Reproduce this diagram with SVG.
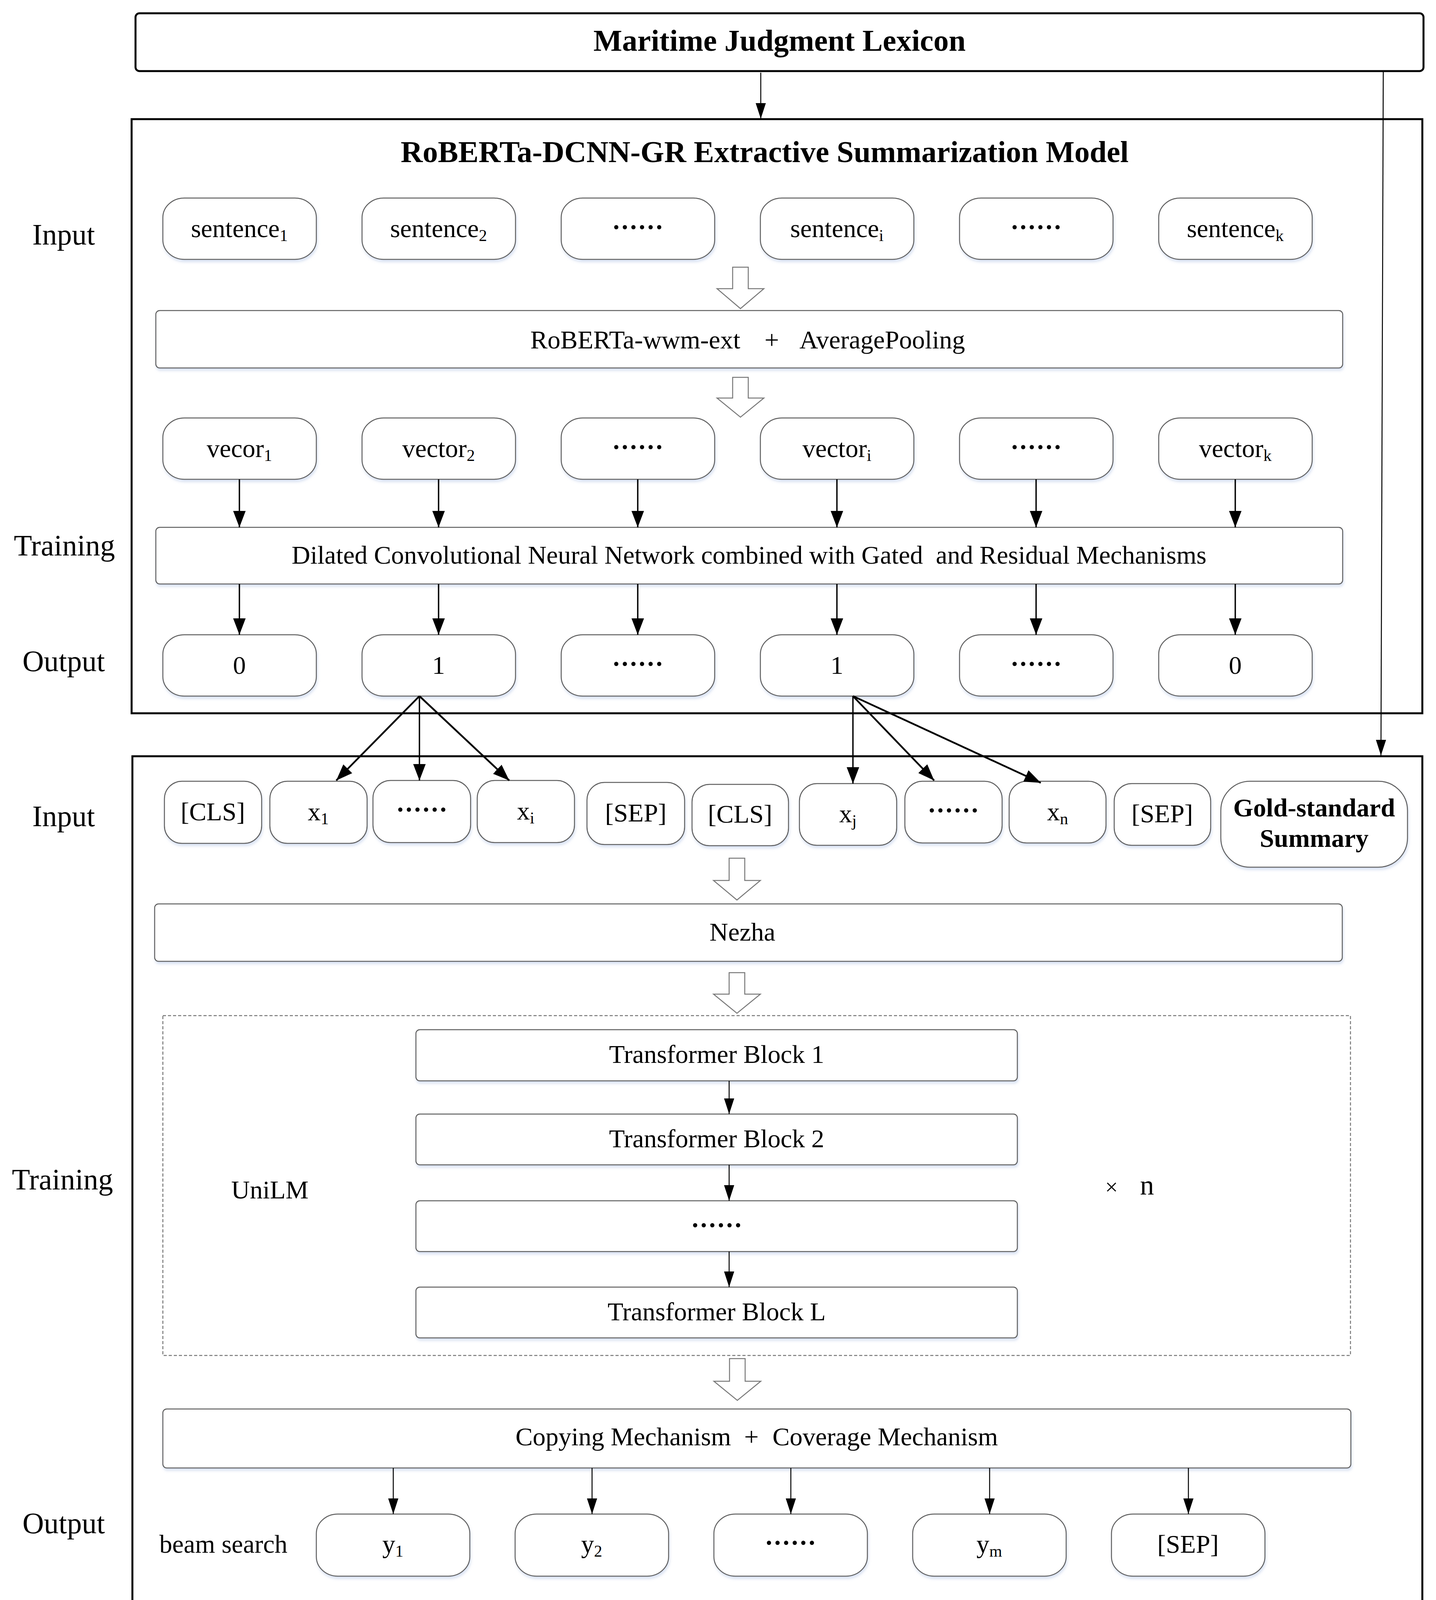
<svg xmlns="http://www.w3.org/2000/svg" width="3677" height="4305" viewBox="0 0 3677 4305">
<style>
.frame{fill:none;stroke:#000;stroke-width:5}
.node{fill:#fff;stroke:#5e5e5e;stroke-width:2.5;filter:url(#sh)}
.t{font-family:"Liberation Serif","Times New Roman",serif;fill:#000;text-anchor:middle}
.lbl{font-size:76px}
.nt{font-size:66px}
.bt{font-size:78px;font-weight:bold}
.sub{font-size:42px}
.dots{font-family:"Noto Sans CJK SC",sans-serif;font-weight:bold;font-size:66px;fill:#000;text-anchor:middle}
.c{stroke:#000;stroke-width:3.5;fill:none;marker-end:url(#ah)}
.cs{stroke:#000;stroke-width:2.5;fill:none;marker-end:url(#ahs)}
.hollow{fill:#fff;stroke:#777;stroke-width:2.5}
.dash{fill:none;stroke:#777;stroke-width:2.5;stroke-dasharray:8 5}
</style>
<defs>
<filter id="sh" x="-10%" y="-10%" width="120%" height="130%">
<feDropShadow dx="2" dy="6" stdDeviation="3" flood-color="#b8c8e8" flood-opacity="0.5"/>
</filter>
<marker id="ah" markerUnits="userSpaceOnUse" markerWidth="42" markerHeight="32" refX="42" refY="16" orient="auto">
<path d="M0,0 L42,16 L0,32 z" fill="#000"/>
</marker>
<marker id="ahs" markerUnits="userSpaceOnUse" markerWidth="40" markerHeight="26" refX="40" refY="13" orient="auto">
<path d="M0,0 L40,13 L0,26 z" fill="#000"/>
</marker>
</defs>
<rect width="3677" height="4305" fill="#fff"/>

<g id="lexicon">
<rect x="347" y="34" width="3298" height="148" rx="10" class="frame" fill="#fff"/>
<text x="1996" y="130" class="t bt">Maritime Judgment Lexicon</text>
</g>

<g id="extractive-model">
<rect x="337" y="305" width="3305" height="1521" class="frame"/>
<text x="1958" y="415" class="t bt">RoBERTa-DCNN-GR Extractive Summarization Model</text>
</g>

<g id="labels-upper">
<text x="163" y="626" class="t lbl">Input</text>
<text x="165" y="1422" class="t lbl">Training</text>
<text x="163" y="1718" class="t lbl">Output</text>
</g>

<g id="sentences">
<g id="s1"><rect x="417" y="507" width="393" height="157" rx="55" ry="50" class="node"/><text x="613" y="607" class="t nt">sentence<tspan class="sub" dy="10">1</tspan></text></g>
<g id="s2"><rect x="927" y="507" width="393" height="157" rx="55" ry="50" class="node"/><text x="1123" y="607" class="t nt">sentence<tspan class="sub" dy="10">2</tspan></text></g>
<g id="s3"><rect x="1437" y="507" width="393" height="157" rx="55" ry="50" class="node"/><text x="1633" y="607" class="dots">……</text></g>
<g id="s4"><rect x="1947" y="507" width="393" height="157" rx="55" ry="50" class="node"/><text x="2143" y="607" class="t nt">sentence<tspan class="sub" dy="10">i</tspan></text></g>
<g id="s5"><rect x="2457" y="507" width="393" height="157" rx="55" ry="50" class="node"/><text x="2653" y="607" class="dots">……</text></g>
<g id="s6"><rect x="2967" y="507" width="393" height="157" rx="55" ry="50" class="node"/><text x="3163" y="607" class="t nt">sentence<tspan class="sub" dy="10">k</tspan></text></g>
</g>

<g id="roberta">
<rect x="399" y="795" width="3039" height="147" rx="10" class="node"/>
<text x="1358" y="892" class="t nt" style="text-anchor:start">RoBERTa-wwm-ext</text>
<text x="1976" y="892" class="t nt">+</text>
<text x="2047" y="892" class="t nt" style="text-anchor:start">AveragePooling</text>
</g>

<g id="vectors">
<g id="v1"><rect x="417" y="1070" width="393" height="157" rx="55" ry="50" class="node"/><text x="613" y="1170" class="t nt">vecor<tspan class="sub" dy="10">1</tspan></text></g>
<g id="v2"><rect x="927" y="1070" width="393" height="157" rx="55" ry="50" class="node"/><text x="1123" y="1170" class="t nt">vector<tspan class="sub" dy="10">2</tspan></text></g>
<g id="v3"><rect x="1437" y="1070" width="393" height="157" rx="55" ry="50" class="node"/><text x="1633" y="1170" class="dots">……</text></g>
<g id="v4"><rect x="1947" y="1070" width="393" height="157" rx="55" ry="50" class="node"/><text x="2143" y="1170" class="t nt">vector<tspan class="sub" dy="10">i</tspan></text></g>
<g id="v5"><rect x="2457" y="1070" width="393" height="157" rx="55" ry="50" class="node"/><text x="2653" y="1170" class="dots">……</text></g>
<g id="v6"><rect x="2967" y="1070" width="393" height="157" rx="55" ry="50" class="node"/><text x="3163" y="1170" class="t nt">vector<tspan class="sub" dy="10">k</tspan></text></g>
</g>

<g id="dcnn">
<rect x="399" y="1350" width="3039" height="145" rx="10" class="node"/>
<text x="1918" y="1443" class="t nt" xml:space="preserve">Dilated Convolutional Neural Network combined with Gated  and Residual Mechanisms</text>
</g>

<g id="outputs">
<g id="o1"><rect x="417" y="1625" width="393" height="157" rx="55" ry="50" class="node"/><text x="613" y="1725" class="t nt">0</text></g>
<g id="o2"><rect x="927" y="1625" width="393" height="157" rx="55" ry="50" class="node"/><text x="1123" y="1725" class="t nt">1</text></g>
<g id="o3"><rect x="1437" y="1625" width="393" height="157" rx="55" ry="50" class="node"/><text x="1633" y="1725" class="dots">……</text></g>
<g id="o4"><rect x="1947" y="1625" width="393" height="157" rx="55" ry="50" class="node"/><text x="2143" y="1725" class="t nt">1</text></g>
<g id="o5"><rect x="2457" y="1625" width="393" height="157" rx="55" ry="50" class="node"/><text x="2653" y="1725" class="dots">……</text></g>
<g id="o6"><rect x="2967" y="1625" width="393" height="157" rx="55" ry="50" class="node"/><text x="3163" y="1725" class="t nt">0</text></g>
</g>

<g id="abstractive-model">
<rect x="339" y="1936" width="3303" height="2329" class="frame"/>
<text x="1991" y="4187" class="t bt">Nezha-UniLM-CC Abstractive Summarization Model</text>
</g>

<g id="labels-lower">
<text x="163" y="2115" class="t lbl">Input</text>
<text x="160" y="3045" class="t lbl">Training</text>
<text x="163" y="3925" class="t lbl">Output</text>
<text x="572" y="3975" class="t nt">beam search</text>
</g>

<g id="inputs">
<g id="i1"><rect x="421" y="2000" width="249" height="159" rx="45" class="node"/><text x="545" y="2100" class="t nt">[CLS]</text></g>
<g id="i2"><rect x="691" y="2000" width="249" height="159" rx="45" class="node"/><text x="815" y="2100" class="t nt">x<tspan class="sub" dy="10">1</tspan></text></g>
<g id="i3"><rect x="955" y="1998" width="250" height="159" rx="45" class="node"/><text x="1080" y="2098" class="dots">……</text></g>
<g id="i4"><rect x="1222" y="1998" width="249" height="159" rx="45" class="node"/><text x="1346" y="2098" class="t nt">x<tspan class="sub" dy="10">i</tspan></text></g>
<g id="i5"><rect x="1503" y="2003" width="250" height="159" rx="45" class="node"/><text x="1628" y="2103" class="t nt">[SEP]</text></g>
<g id="i6"><rect x="1772" y="2008" width="247" height="157" rx="45" class="node"/><text x="1895" y="2106" class="t nt">[CLS]</text></g>
<g id="i7"><rect x="2047" y="2006" width="249" height="158" rx="45" class="node"/><text x="2171" y="2105" class="t nt">x<tspan class="sub" dy="10">j</tspan></text></g>
<g id="i8"><rect x="2317" y="2000" width="249" height="158" rx="45" class="node"/><text x="2441" y="2100" class="dots">……</text></g>
<g id="i9"><rect x="2584" y="2000" width="248" height="158" rx="45" class="node"/><text x="2708" y="2100" class="t nt">x<tspan class="sub" dy="10">n</tspan></text></g>
<g id="i10"><rect x="2853" y="2006" width="247" height="158" rx="45" class="node"/><text x="2976" y="2105" class="t nt">[SEP]</text></g>
<g id="gold"><rect x="3126" y="2000" width="478" height="220" rx="75" class="node"/><text x="3365" y="2090" class="t nt" style="font-weight:bold">Gold-standard</text><text x="3365" y="2168" class="t nt" style="font-weight:bold">Summary</text></g>
</g>

<g id="nezha">
<rect x="396" y="2314" width="3041" height="147" rx="10" class="node"/>
<text x="1901" y="2408" class="t nt">Nezha</text>
</g>

<g id="unilm">
<rect x="417" y="2600" width="3041" height="870" class="dash"/>
<text x="691" y="3068" class="t nt">UniLM</text>
<text x="2846" y="3058" class="t" style="font-size:58px">×</text>
<text x="2937" y="3058" class="t" style="font-size:72px">n</text>
</g>

<g id="tb1"><rect x="1065" y="2636" width="1540" height="131" rx="10" class="node"/><text x="1835" y="2721" class="t nt">Transformer Block 1</text></g>
<g id="tb2"><rect x="1065" y="2852" width="1540" height="130" rx="10" class="node"/><text x="1835" y="2937" class="t nt">Transformer Block 2</text></g>
<g id="tb3"><rect x="1065" y="3074" width="1540" height="130" rx="10" class="node"/><text x="1835" y="3162" class="dots">……</text></g>
<g id="tbL"><rect x="1065" y="3295" width="1540" height="130" rx="10" class="node"/><text x="1835" y="3380" class="t nt">Transformer Block L</text></g>

<g id="copying">
<rect x="417" y="3607" width="3042" height="151" rx="10" class="node"/>
<text x="1320" y="3700" class="t nt" style="text-anchor:start">Copying Mechanism</text>
<text x="1924" y="3700" class="t nt">+</text>
<text x="1978" y="3700" class="t nt" style="text-anchor:start">Coverage Mechanism</text>
</g>

<g id="ys">
<g id="y1"><rect x="810" y="3876" width="393" height="159" rx="55" ry="50" class="node"/><text x="1006" y="3975" class="t nt">y<tspan class="sub" dy="10">1</tspan></text></g>
<g id="y2"><rect x="1319" y="3876" width="393" height="159" rx="55" ry="50" class="node"/><text x="1515" y="3975" class="t nt">y<tspan class="sub" dy="10">2</tspan></text></g>
<g id="y3"><rect x="1828" y="3876" width="393" height="159" rx="55" ry="50" class="node"/><text x="2024" y="3975" class="dots">……</text></g>
<g id="y4"><rect x="2337" y="3876" width="393" height="159" rx="55" ry="50" class="node"/><text x="2533" y="3975" class="t nt">y<tspan class="sub" dy="10">m</tspan></text></g>
<g id="y5"><rect x="2846" y="3876" width="393" height="159" rx="55" ry="50" class="node"/><text x="3042" y="3975" class="t nt">[SEP]</text></g>
</g>

<g id="connectors">
<line x1="1948" y1="186" x2="1948" y2="304" class="cs"/>
<line x1="3542" y1="183" x2="3536" y2="1934" class="cs"/>
<polygon class="hollow" points="1876,684 1916,684 1916,739 1956,739 1896,790 1836,739 1876,739"/>
<polygon class="hollow" points="1876,966 1916,966 1916,1019 1956,1019 1896,1068 1836,1019 1876,1019"/>
<polygon class="hollow" points="1867,2197 1907,2197 1907,2254 1947,2254 1887,2304 1827,2254 1867,2254"/>
<polygon class="hollow" points="1867,2490 1907,2490 1907,2545 1947,2545 1887,2594 1827,2545 1867,2545"/>
<polygon class="hollow" points="1868,3478 1908,3478 1908,3536 1948,3536 1888,3585 1828,3536 1868,3536"/>
<line x1="613" y1="1227" x2="613" y2="1350" class="c"/>
<line x1="1123" y1="1227" x2="1123" y2="1350" class="c"/>
<line x1="1633" y1="1227" x2="1633" y2="1350" class="c"/>
<line x1="2143" y1="1227" x2="2143" y2="1350" class="c"/>
<line x1="2653" y1="1227" x2="2653" y2="1350" class="c"/>
<line x1="3163" y1="1227" x2="3163" y2="1350" class="c"/>
<line x1="613" y1="1495" x2="613" y2="1625" class="c"/>
<line x1="1123" y1="1495" x2="1123" y2="1625" class="c"/>
<line x1="1633" y1="1495" x2="1633" y2="1625" class="c"/>
<line x1="2143" y1="1495" x2="2143" y2="1625" class="c"/>
<line x1="2653" y1="1495" x2="2653" y2="1625" class="c"/>
<line x1="3163" y1="1495" x2="3163" y2="1625" class="c"/>
<line x1="1074" y1="1782" x2="861" y2="1998" class="c" style="stroke-width:4.5"/>
<line x1="1074" y1="1782" x2="1074" y2="1998" class="c"/>
<line x1="1074" y1="1782" x2="1304" y2="1998" class="c" style="stroke-width:4.5"/>
<line x1="2184" y1="1782" x2="2184" y2="2006" class="c"/>
<line x1="2184" y1="1782" x2="2392" y2="1998" class="c" style="stroke-width:4.5"/>
<line x1="2184" y1="1782" x2="2665" y2="2004" class="c" style="stroke-width:4.5"/>
<line x1="1867" y1="2767" x2="1867" y2="2852" class="cs"/>
<line x1="1867" y1="2982" x2="1867" y2="3074" class="cs"/>
<line x1="1867" y1="3204" x2="1867" y2="3295" class="cs"/>
<line x1="1007" y1="3758" x2="1007" y2="3876" class="cs"/>
<line x1="1516" y1="3758" x2="1516" y2="3876" class="cs"/>
<line x1="2025" y1="3758" x2="2025" y2="3876" class="cs"/>
<line x1="2534" y1="3758" x2="2534" y2="3876" class="cs"/>
<line x1="3043" y1="3758" x2="3043" y2="3876" class="cs"/>
</g>
</svg>
